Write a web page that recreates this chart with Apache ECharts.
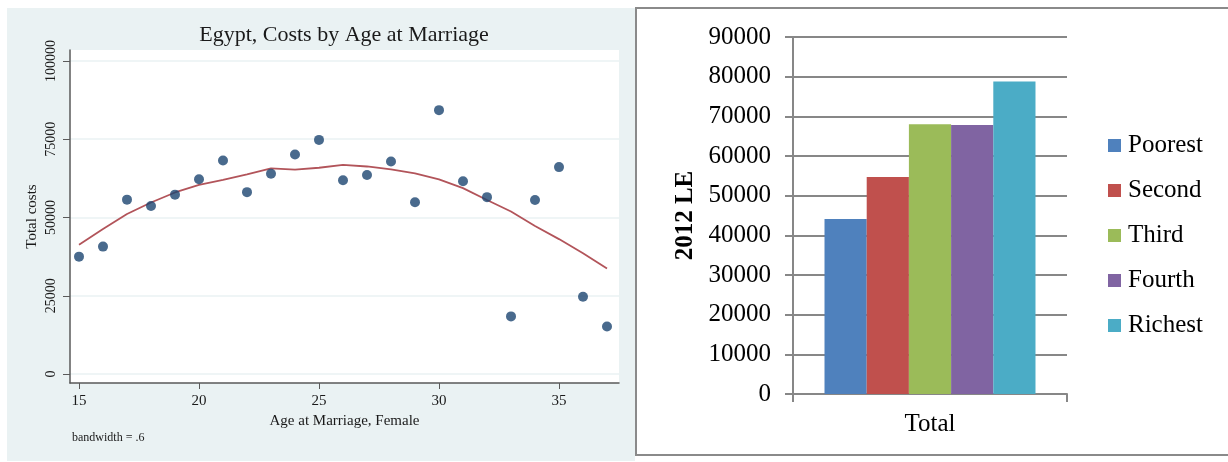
<!DOCTYPE html>
<html><head><meta charset="utf-8">
<script src="https://cdn.jsdelivr.net/npm/echarts@6/dist/echarts.min.js"></script>
<style>html,body{margin:0;padding:0;background:#fff}#c{width:1228px;height:462px}</style>
</head><body><div id="c"></div>
<script>
// Left panel: Egypt, costs by age at marriage
const ages = [15,16,17,18,19,20,21,22,23,24,25,26,27,28,29,30,31,32,33,34,35,36,37];
const totalCosts = [37500,40700,55700,53700,57300,62200,68200,58100,64000,70100,74800,61900,63600,67900,54900,84300,61600,56500,18400,55600,66100,24700,15200];
const lowessFit = [41300,46300,51100,54800,58000,60400,62000,63800,65700,65300,65900,66800,66300,65400,64100,62200,59400,55600,51900,47300,43100,38600,33700];
const leftYTicks = [0,25000,50000,75000,100000];
const leftXTicks = [15,20,25,30,35];
// Right panel: costs by wealth quintile
const barCategories = ['Total'];
const quintiles = ['Poorest','Second','Third','Fourth','Richest'];
const quintileCosts = [44100,54700,68000,67800,78800];
const quintileColors = ['#4f81bd','#c0504d','#9bbb59','#8064a2','#4bacc6'];

const serif = 'Liberation Serif';
const gridGray = '#878787';
const plain = v => String(v);

const scatterData = ages.map((a,i)=>[a,totalCosts[i]]);
const lineData = ages.map((a,i)=>[a,lowessFit[i]]);

const barSeries = quintiles.map((q,i)=>({
  name: q, type: 'bar', xAxisIndex: 1, yAxisIndex: 1,
  data: [quintileCosts[i]],
  itemStyle: {color: quintileColors[i]},
  barGap: '0%', barCategoryGap: '23%'
}));

const chart = echarts.init(document.getElementById('c'), null, {renderer:'canvas'});
chart.setOption({
  animation: false,
  backgroundColor: '#ffffff',
  graphic: [
    {type:'rect', z:-5, silent:true, shape:{x:7,y:8,width:628,height:453}, style:{fill:'#eaf2f3'}},
    {type:'rect', z:-5, silent:true, shape:{x:636,y:8,width:620,height:447}, style:{fill:'none', stroke:'#8a8a8a', lineWidth:2}}
  ],
  title: [
    {text:'Egypt, Costs by Age at Marriage', left:344, top:24, textAlign:'center', padding:0,
     textStyle:{fontFamily:serif, fontSize:22, fontWeight:'normal', color:'#1a1a1a'}},
    {text:'bandwidth = .6', left:72, top:432, padding:0,
     textStyle:{fontFamily:serif, fontSize:12, fontWeight:'normal', color:'#1a1a1a'}}
  ],
  legend: {
    data: quintiles, orient:'vertical', left:1108, top:133, padding:0,
    itemWidth:13, itemHeight:13, itemGap:20, icon:'rect',
    textStyle:{fontFamily:serif, fontSize:25, color:'#000', lineHeight:24, padding:[0,0,0,2]}
  },
  grid: [
    {left:70, top:50, width:549, height:333, show:true, backgroundColor:'#ffffff', borderWidth:0},
    {left:793, top:37, width:274, height:357}
  ],
  xAxis: [
    {type:'value', gridIndex:0, min:14.625, max:37.5,
     name:'Age at Marriage, Female', nameLocation:'middle', nameGap:27,
     nameTextStyle:{fontFamily:serif, fontSize:15, color:'#1a1a1a'},
     axisLine:{show:true, onZero:false, lineStyle:{color:'#5a5a5a', width:1.5}},
     axisTick:{show:true, length:6, customValues:leftXTicks, lineStyle:{color:'#5a5a5a'}},
     axisLabel:{customValues:leftXTicks, margin:11, formatter:plain, fontFamily:serif, fontSize:15, color:'#1a1a1a'},
     splitLine:{show:false}},
    {type:'category', gridIndex:1, data:barCategories,
     axisLine:{show:true, lineStyle:{color:gridGray, width:2}},
     axisTick:{show:true, length:8, lineStyle:{color:gridGray, width:2}},
     axisLabel:{margin:18, fontFamily:serif, fontSize:25, color:'#000'}}
  ],
  yAxis: [
    {type:'value', gridIndex:0, min:-2875, max:103514,
     name:'Total costs', nameLocation:'middle', nameGap:30,
     nameTextStyle:{fontFamily:serif, fontSize:15, color:'#1a1a1a'},
     axisLine:{show:true, lineStyle:{color:'#5a5a5a', width:1.5}},
     axisTick:{show:true, length:7, customValues:leftYTicks, lineStyle:{color:'#5a5a5a'}},
     axisLabel:{customValues:leftYTicks, rotate:90, margin:12, formatter:plain, fontFamily:serif, fontSize:14, color:'#1a1a1a'},
     splitLine:{show:true, lineStyle:{color:'#eaf2f3', width:1.5}}},
    {type:'value', gridIndex:1, min:0, max:90000, interval:10000,
     name:'2012 LE', nameLocation:'middle', nameGap:95,
     nameTextStyle:{fontFamily:serif, fontSize:25, fontWeight:'bold', color:'#000'},
     axisLine:{show:true, lineStyle:{color:gridGray, width:2}},
     axisTick:{show:true, length:8, lineStyle:{color:gridGray, width:2}},
     axisLabel:{margin:22, formatter:plain, fontFamily:serif, fontSize:25, color:'#000'},
     splitLine:{show:true, lineStyle:{color:gridGray, width:2}}}
  ],
  series: [
    {type:'line', xAxisIndex:0, yAxisIndex:0, data:lineData, showSymbol:false, symbol:'none',
     lineStyle:{color:'#b2545a', width:1.8}, z:2},
    {type:'scatter', xAxisIndex:0, yAxisIndex:0, data:scatterData, symbol:'circle', symbolSize:10,
     itemStyle:{color:'#1b4570'}, z:3},
    ...barSeries
  ]
});
</script></body></html>
